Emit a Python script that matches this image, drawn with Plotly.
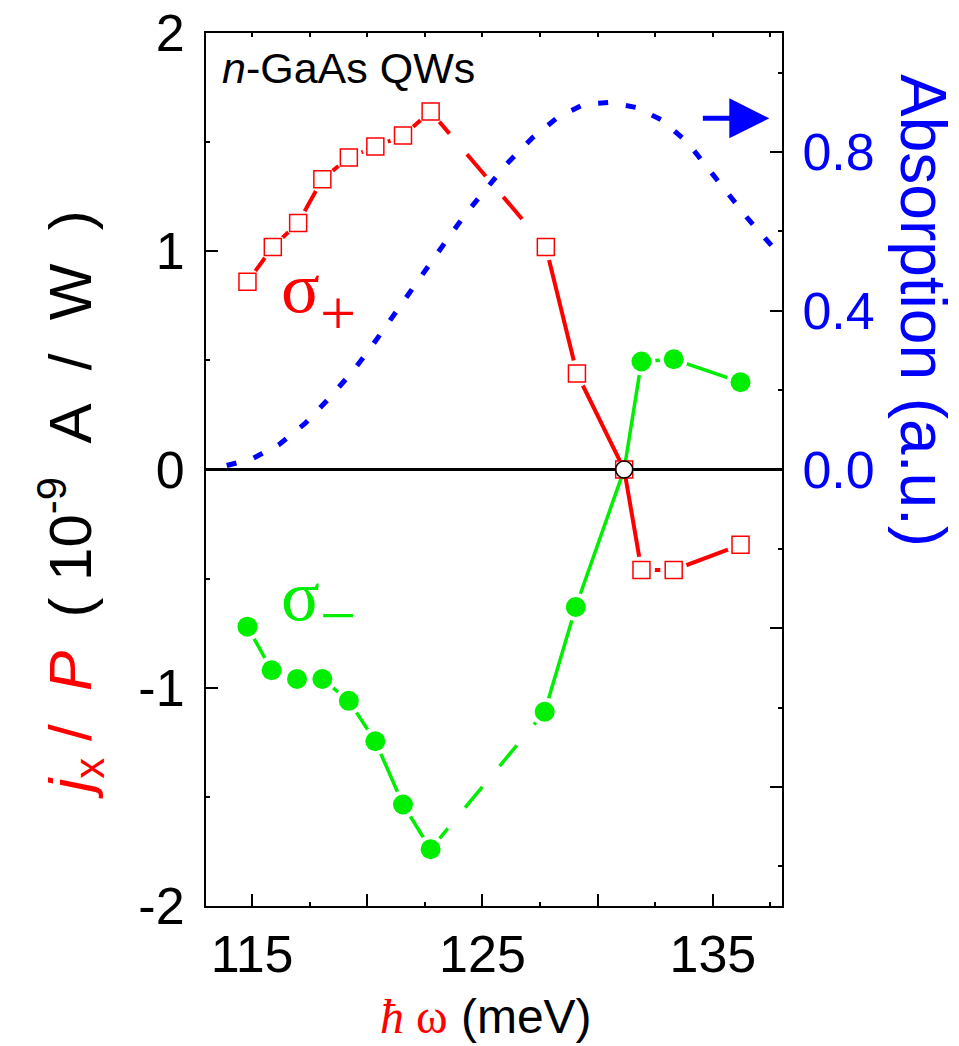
import plotly.graph_objects as go

# ---------------- data ----------------
energy_plus = [114.8, 115.9, 117.0, 118.05, 119.2, 120.35, 121.55, 122.75,
               127.75, 129.1, 131.15, 131.9, 133.3, 136.2]
jx_plus = [0.86, 1.02, 1.13, 1.33, 1.43, 1.48, 1.53, 1.64,
           1.02, 0.44, 0.0, -0.46, -0.46, -0.345]

energy_minus = [114.8, 115.85, 116.95, 118.05, 119.2, 120.35, 121.55, 122.75,
                127.7, 129.05, 131.15, 131.9, 133.3, 136.2]
jx_minus = [-0.72, -0.92, -0.96, -0.96, -1.06, -1.245, -1.535, -1.74,
            -1.11, -0.63, 0.0, 0.495, 0.505, 0.40]

energy_abs = [113.9, 115.0, 116.15, 117.3, 118.35, 119.35, 120.2, 121.0, 121.8,
              122.6, 123.4, 124.2, 125.1, 126.05, 127.15, 128.3, 129.4, 130.55,
              131.7, 132.8, 133.9, 134.8, 135.65, 136.55, 137.6]
absorption = [0.01, 0.027, 0.062, 0.116, 0.18, 0.246, 0.311, 0.378, 0.443,
              0.509, 0.574, 0.639, 0.705, 0.77, 0.835, 0.889, 0.92, 0.925,
              0.912, 0.88, 0.824, 0.757, 0.693, 0.63, 0.561]

x_ticks = [115, 120, 125, 130, 135]
x_ticktext = ['115', '', '125', '', '135']
y_ticks = [-2, -1, 0, 1, 2]
y_ticktext = ['-2', '-1', '0', '1', '2']
y2_ticks = [-0.8, -0.4, 0.0, 0.4, 0.8]
y2_ticktext = ['', '', '0.0', '0.4', '0.8']

GAP_INDEX = 7  # dashed segment between index 7 and 8

RED = '#ff0000'
GREEN = '#00ee00'
BLUE = '#0000ff'
SANS = 'Liberation Sans, Arial, sans-serif'
SERIF = 'Liberation Serif, Times New Roman, serif'

W, H = 959, 1046
ML, MR, MT, MB = 206, 177, 33, 140


def pxx(p):
    return (p - ML) / (W - ML - MR)


def pxy(p):
    return (H - MB - p) / (H - MT - MB)


fig = go.Figure()


def add_series(xs, ys, color, width, dash):
    g = GAP_INDEX
    fig.add_trace(go.Scatter(x=xs[:g + 1], y=ys[:g + 1], mode='lines',
                             line=dict(color=color, width=width)))
    fig.add_trace(go.Scatter(x=xs[g:g + 2], y=ys[g:g + 2], mode='lines',
                             line=dict(color=color, width=width, dash=dash)))
    fig.add_trace(go.Scatter(x=xs[g + 1:], y=ys[g + 1:], mode='lines',
                             line=dict(color=color, width=width)))


add_series(energy_plus, jx_plus, RED, 4, '29px,27px')
add_series(energy_minus, jx_minus, GREEN, 3.5, '27px,27px')

# white halos to make gaps around markers
hp = [(x, y) for x, y in zip(energy_plus, jx_plus) if y != 0]
hm = [(x, y) for x, y in zip(energy_minus, jx_minus) if y != 0]
fig.add_trace(go.Scatter(x=[p[0] for p in hp], y=[p[1] for p in hp], mode='markers',
                         marker=dict(symbol='circle', size=27, color='white',
                                     line=dict(width=0))))
fig.add_trace(go.Scatter(x=[p[0] for p in hm], y=[p[1] for p in hm], mode='markers',
                         marker=dict(symbol='circle', size=28, color='white',
                                     line=dict(width=0))))

# markers
fig.add_trace(go.Scatter(x=energy_plus, y=jx_plus, mode='markers',
                         marker=dict(symbol='square', size=17, color='white',
                                     line=dict(color=RED, width=1.5))))
fig.add_trace(go.Scatter(x=[p[0] for p in hm], y=[p[1] for p in hm], mode='markers',
                         marker=dict(symbol='circle', size=20, color=GREEN,
                                     line=dict(width=0))))
zx = [x for x, y in zip(energy_plus, jx_plus) if y == 0]
zy = [y for y in jx_plus if y == 0]
fig.add_trace(go.Scatter(x=zx, y=zy, mode='markers',
                         marker=dict(symbol='circle-open', size=17, color='black',
                                     line=dict(color='black', width=1.5))))

# absorption (right axis)
fig.add_trace(go.Scatter(x=energy_abs, y=absorption, mode='lines', xaxis='x2', yaxis='y2',
                         line=dict(color=BLUE, width=5, dash='10px,18px')))

fig.update_layout(
    width=W, height=H,
    margin=dict(l=ML, r=MR, t=MT, b=MB, autoexpand=False),
    plot_bgcolor='white', paper_bgcolor='white',
    showlegend=False,
    font=dict(family=SANS, color='black'),
    xaxis=dict(range=[113, 138], tickvals=x_ticks, ticktext=x_ticktext,
               ticks='inside', ticklen=12, tickwidth=2, tickcolor='black',
               showline=True, linewidth=2, linecolor='black', mirror=True,
               showgrid=False, zeroline=False, automargin=False,
               tickfont=dict(size=52, color='black', family=SANS),
               ticklabelstandoff=2,
               minor=dict(tick0=115, dtick=2.5, ticks='inside', ticklen=4,
                          tickwidth=1.5, tickcolor='black')),
    xaxis2=dict(range=[113, 138], overlaying='x', side='top', anchor='y',
                tick0=115, dtick=2.5, ticks='inside', ticklen=4, tickwidth=1.5,
                tickcolor='black', showticklabels=False, showline=False,
                showgrid=False, zeroline=False, automargin=False),
    yaxis=dict(range=[-2, 2], tickvals=y_ticks, ticktext=y_ticktext,
               ticks='inside', ticklen=12, tickwidth=2, tickcolor='black',
               showline=True, linewidth=2, linecolor='black',
               showgrid=False, zeroline=True, zerolinecolor='black', zerolinewidth=2.5,
               automargin=False,
               tickfont=dict(size=52, color='black', family=SANS),
               ticklabelstandoff=9,
               minor=dict(dtick=0.5, ticks='inside', ticklen=4, tickwidth=1.5,
                          tickcolor='black')),
    yaxis2=dict(range=[-1.1, 1.1], overlaying='y', side='right', anchor='x2',
                tickvals=y2_ticks, ticktext=y2_ticktext,
                ticks='inside', ticklen=12, tickwidth=2, tickcolor='black',
                showline=True, linewidth=2, linecolor='black',
                showgrid=False, zeroline=False, automargin=False,
                tickfont=dict(size=52, color=BLUE, family=SANS),
                ticklabelstandoff=8,
                minor=dict(dtick=0.2, ticks='inside', ticklen=4, tickwidth=1.5,
                           tickcolor='black')),
)

NB = '\u00a0'
ann = []
# left axis title
ann.append(dict(xref='paper', yref='paper', x=pxx(70), y=pxy(505), showarrow=False,
                textangle=-90, xanchor='center', yanchor='middle',
                font=dict(size=60, family=SANS, color='black'),
                text=(f"<span style='color:{RED}'><i>j</i><sub>x</sub>{NB}/{NB}{NB}<i>P</i></span>"
                      f"{NB}{NB}({NB}10<sup>-9</sup>{NB}{NB}A{NB}{NB}/{NB}{NB}W{NB}{NB})")))
# right axis title
ann.append(dict(xref='paper', yref='paper', x=pxx(923), y=pxy(310), showarrow=False,
                textangle=90, xanchor='center', yanchor='middle',
                font=dict(size=64, family=SANS, color=BLUE),
                text='Absorption (a.u.)'))
# bottom title
ann.append(dict(xref='paper', yref='paper', x=pxx(486), y=pxy(1016), showarrow=False,
                xanchor='center', yanchor='middle',
                font=dict(size=48, family=SANS, color='black'),
                text=(f"<span style='color:{RED};font-family:{SERIF}'><i>ħ</i>{NB}ω</span>"
                      f"{NB}(meV)")))
# sample label
ann.append(dict(xref='paper', yref='paper', x=pxx(220), y=pxy(68), showarrow=False,
                xanchor='left', yanchor='middle',
                font=dict(size=43, family=SANS, color='black'),
                text='<i>n</i>-GaAs QWs'))
# sigma labels
ann.append(dict(xref='paper', yref='paper', x=pxx(300), y=pxy(288), showarrow=False,
                xanchor='center', yanchor='middle',
                font=dict(size=72, family=SERIF, color=RED), text='σ'))
ann.append(dict(xref='paper', yref='paper', x=pxx(338), y=pxy(314), showarrow=False,
                xanchor='center', yanchor='middle',
                font=dict(size=64, family=SERIF, color=RED), text='+'))
ann.append(dict(xref='paper', yref='paper', x=pxx(300), y=pxy(596), showarrow=False,
                xanchor='center', yanchor='middle',
                font=dict(size=72, family=SERIF, color=GREEN), text='σ'))
ann.append(dict(xref='paper', yref='paper', x=pxx(338), y=pxy(615), showarrow=False,
                xanchor='center', yanchor='middle',
                font=dict(size=64, family=SERIF, color=GREEN), text='−'))
# arrow pointing to right axis
ann.append(dict(xref='x2', yref='y2', axref='x2', ayref='y2',
                x=137.45, y=0.885, ax=134.5, ay=0.885, text='',
                showarrow=True, arrowhead=2, arrowsize=1.6, arrowwidth=5,
                arrowcolor=BLUE, standoff=0, startstandoff=0))
fig.update_layout(annotations=ann)

fig.write_html('out.html', config={'displayModeBar': False},
               post_script="document.body.style.margin='0';document.body.style.overflow='hidden';")
